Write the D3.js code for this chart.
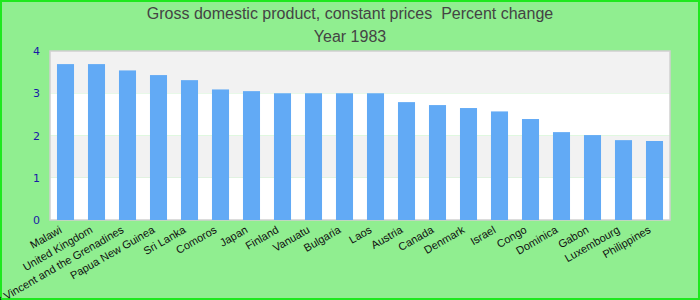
<!DOCTYPE html>
<html>
<head>
<meta charset="utf-8">
<script src="https://cdn.jsdelivr.net/npm/d3@7"></script>
<style>
  body { margin: 0; background: #fff; }
  svg { display: block; }
</style>
</head>
<body>
<div id="chart"></div>
<script>
const countries = ["Malawi", "United Kingdom", "Saint Vincent and the Grenadines", "Papua New Guinea",
    "Sri Lanka", "Comoros", "Japan", "Finland", "Vanuatu", "Bulgaria", "Laos", "Austria", "Canada",
    "Denmark", "Israel", "Congo", "Dominica", "Gabon", "Luxembourg", "Philippines"];
const growth = [3.69, 3.69, 3.54, 3.43, 3.31, 3.09, 3.05, 3.0, 3.0, 3.0, 3.0, 2.79, 2.72,
    2.65, 2.57, 2.39, 2.08, 2.01, 1.89, 1.87];
const yTicks = [0, 1, 2, 3, 4];

const width = 700, height = 300;
const margin = { top: 51, right: 30, bottom: 80, left: 50 };

const svg = d3.select("#chart")
    .append("svg")
    .attr("width", width)
    .attr("height", height);

// фон и рамка
svg.append("rect")
    .attr("x", 1).attr("y", 1)
    .attr("width", width - 2).attr("height", height - 2)
    .attr("fill", "#90ee90")
    .attr("stroke", "#1ee81e")
    .attr("stroke-width", 2);

const x = d3.scaleBand()
    .domain(countries)
    .range([margin.left, width - margin.right])
    .paddingInner(0.45)
    .paddingOuter(0.225);

const y = d3.scaleLinear()
    .domain([0, 4])
    .range([height - margin.bottom, margin.top]);

// полосы сетки
svg.append("g")
    .selectAll("rect")
    .data(yTicks.slice(0, -1))
    .enter().append("rect")
    .attr("x", margin.left)
    .attr("width", width - margin.right - margin.left)
    .attr("y", d => y(d + 1))
    .attr("height", d => y(d) - y(d + 1))
    .attr("fill", (d, i) => i % 2 ? "#f2f2f2" : "#ffffff");

svg.append("rect")
    .attr("x", margin.left)
    .attr("y", margin.top)
    .attr("width", width - margin.right - margin.left)
    .attr("height", y(0) - margin.top)
    .attr("fill", "none")
    .attr("stroke", "#d0d0d0")
    .attr("stroke-width", 1.5);

svg.append("g")
    .selectAll("rect")
    .data(countries)
    .enter().append("rect")
    .attr("x", d => x(d))
    .attr("width", x.bandwidth())
    .attr("y", (d, i) => y(growth[i]))
    .attr("height", (d, i) => y(0) - y(growth[i]))
    .attr("fill", "#62aaf5");

// ось Y
const yAxis = svg.append("g")
    .attr("transform", `translate(${margin.left - 10},0)`)
    .call(d3.axisLeft(y).tickValues(yTicks).tickFormat(d3.format("d")).tickSize(0).tickPadding(0));
yAxis.select(".domain").remove();
yAxis.selectAll("text")
    .attr("fill", "#1a1aa6")
    .style("font-family", "DejaVu Sans, sans-serif")
    .style("font-size", "11px");

// ось X
const xAxis = svg.append("g")
    .attr("transform", `translate(0,${y(0)})`)
    .call(d3.axisBottom(x).tickSize(0).tickPadding(0));
xAxis.select(".domain").remove();
xAxis.selectAll("text")
    .attr("fill", "#111")
    .attr("text-anchor", "end")
    .attr("dy", 0)
    .attr("transform", "translate(-3,12) rotate(-30)")
    .style("font-family", "Liberation Sans, Arial, sans-serif")
    .style("font-size", "11px");

// заголовок
const titleLines = ["Gross domestic product, constant prices  Percent change", "Year 1983"];
svg.append("g")
    .selectAll("text")
    .data(titleLines)
    .enter().append("text")
    .attr("x", width / 2)
    .attr("y", (d, i) => 19 + i * 23)
    .attr("fill", "#444")
    .attr("text-anchor", "middle")
    .attr("xml:space", "preserve")
    .style("white-space", "pre")
    .style("font-family", "Liberation Sans, Arial, sans-serif")
    .style("font-size", "16px")
    .text(d => d);
</script>
</body>
</html>
